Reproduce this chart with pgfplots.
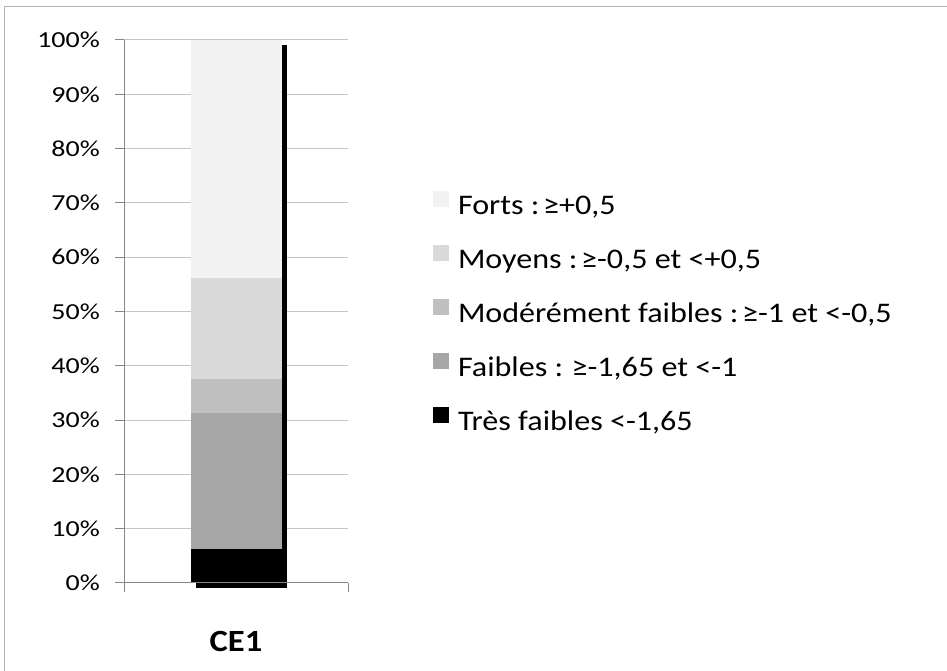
\documentclass[border=0pt]{standalone}
\usepackage{pgfplots}
\pgfplotsset{compat=1.18}
\usepackage{fontspec}
\setmainfont{Carlito}
\newfontfamily\tickfont[FakeStretch=1.22]{Carlito}
\newfontfamily\legfont[FakeStretch=1.13]{Carlito}
\newfontfamily\catfont[FakeStretch=1.12]{Carlito}
\newcommand\supeg{\kern-6bp≥}

\definecolor{forts}{HTML}{F2F2F2}
\definecolor{moyens}{HTML}{D9D9D9}
\definecolor{moderes}{HTML}{BFBFBF}
\definecolor{faibles}{HTML}{A6A6A6}
\definecolor{gridc}{HTML}{C4C4C4}
\definecolor{axisc}{HTML}{868686}
\definecolor{framec}{HTML}{B4B4B4}

\pgfplotsset{
  base/.style={
    scale only axis, width=224bp, height=543bp,
    at={(124bp,88bp)}, anchor=south west,
    xmin=-0.5, xmax=0.5, ymin=0, ymax=100, clip=false,
  }
}

\begin{document}
\begin{tikzpicture}[x=1bp,y=1bp]
\useasboundingbox (0,0) rectangle (947,671);
\draw[framec, line width=1bp] (4.5,664) rectangle (960,-10);

% fond : grille et ombre de la barre
\begin{axis}[base,
  axis line style={draw=none}, tick style={draw=none},
  xtick=\empty, ytick={10,20,...,100}, yticklabels=\empty,
  ymajorgrids, major grid style={gridc, line width=1bp},
]
  \addplot[ybar, bar width=91bp, bar shift=0pt, fill=black, draw=none,
    xshift=5bp, yshift=-5bp] coordinates {(0,100)};
\end{axis}

% barres empilees
\begin{axis}[base,
  ybar stacked, bar width=91bp, axis on top,
  axis x line*=bottom, axis y line*=left,
  axis line style={axisc, line width=1bp},
  tick style={axisc, line width=1bp}, tick align=outside, major tick length=9bp,
  ytick={0,10,...,100},
  yticklabels={0\%,10\%,20\%,30\%,40\%,50\%,60\%,70\%,80\%,90\%,100\%},
  yticklabel style={font=\tickfont\fontsize{23}{23}\selectfont, inner sep=0pt, xshift=-15bp},
  xtick={-0.5,0.5}, xticklabels=\empty,
  reverse legend, legend cell align=left,
  legend style={at={(axis description cs:1.3795,0.7222)}, anchor=north west,
    draw=none, fill=none, inner sep=0pt, outer sep=0pt,
    font=\legfont\fontsize{28.5}{28.5}\selectfont, row sep=24bp,
    nodes={inner sep=0pt, text height=20bp, text depth=6bp},
    /tikz/every odd column/.append style={column sep=9bp}},
  legend image code/.code={\fill[#1] (0bp,1bp) rectangle (16bp,17bp);},
]
  \addplot[fill=black, draw=none] coordinates {(0,6.25)};
  \addlegendentry{Très faibles <-1,65}
  \addplot[fill=faibles, draw=none] coordinates {(0,25)};
  \addlegendentry{Faibles :\ \ \supeg-1,65 et <-1}
  \addplot[fill=moderes, draw=none] coordinates {(0,6.25)};
  \addlegendentry{Modérément faibles : \supeg-1 et <-0,5}
  \addplot[fill=moyens, draw=none] coordinates {(0,18.75)};
  \addlegendentry{Moyens : \supeg-0,5 et <+0,5}
  \addplot[fill=forts, draw=none] coordinates {(0,43.75)};
  \addlegendentry{Forts : \supeg+0,5}
  \node[font=\catfont\bfseries\fontsize{31}{31}\selectfont, anchor=base, inner sep=0pt]
    at (axis cs:0,0) [yshift=-69bp] {CE1};
\end{axis}
\end{tikzpicture}
\end{document}
